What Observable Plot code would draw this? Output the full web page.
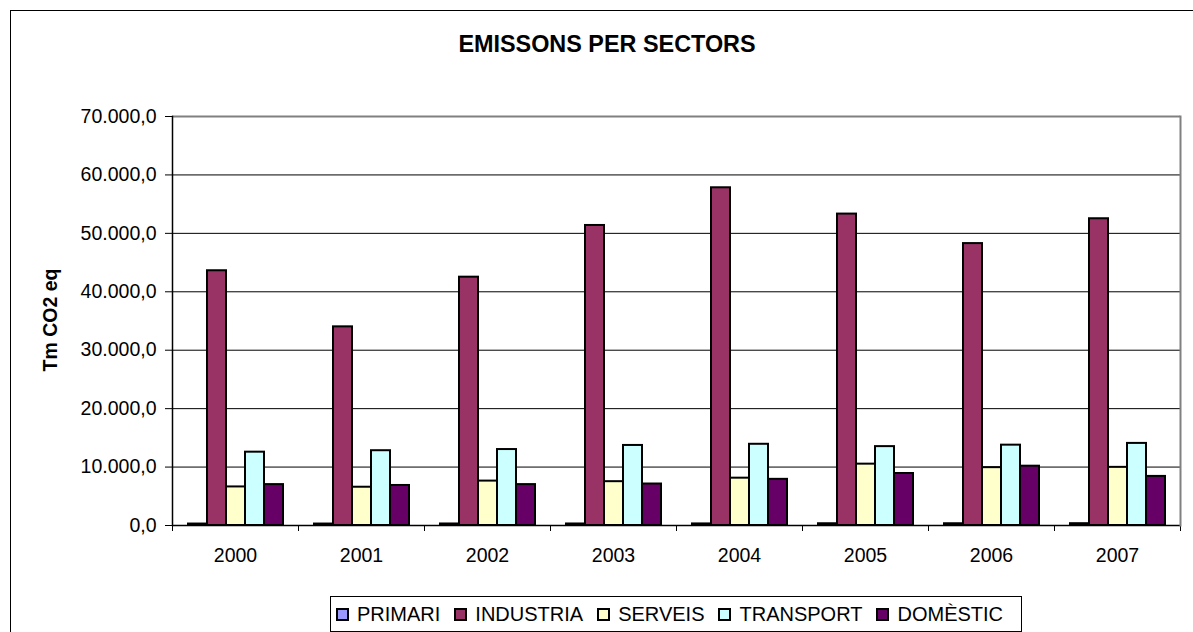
<!DOCTYPE html>
<html><head><meta charset="utf-8">
<script src="https://cdn.jsdelivr.net/npm/d3@7"></script>
<script src="https://cdn.jsdelivr.net/npm/@observablehq/plot@0.6"></script>
<style>
html,body{margin:0;padding:0;background:#fff;overflow:hidden;width:1193px;height:632px;}
body{position:relative;font-family:"Liberation Sans",Arial,sans-serif;color:#000;}
#chart{position:absolute;left:0;top:0;}
#frame{position:absolute;left:10px;top:10px;width:1300px;height:700px;border:1px solid #000;box-sizing:border-box;pointer-events:none;}
#title{position:absolute;left:0;width:1214px;top:33px;text-align:center;font-weight:bold;font-size:23.4px;line-height:23.4px;white-space:nowrap;}
#ytitle{position:absolute;left:50px;top:320px;transform:translate(-50%,-50%) rotate(-90deg);font-weight:bold;font-size:19.5px;white-space:nowrap;}
#legend{position:absolute;left:330px;top:596px;width:692px;height:36px;box-sizing:border-box;border:1px solid #000;display:flex;align-items:center;padding-left:5px;font-size:20px;background:#fff;}
.item{display:flex;align-items:center;margin-right:14px;}
.sw{width:13px;height:13px;box-sizing:border-box;border:2px solid #000;margin-right:8px;}
</style>
</head><body>
<div id="chart"></div>
<div id="frame"></div>
<div id="title"></div>
<div id="ytitle"></div>
<div id="legend"></div>
<script>
const chartTitle = "EMISSONS PER SECTORS";
const yTitle = "Tm CO2 eq";
const years = [2000, 2001, 2002, 2003, 2004, 2005, 2006, 2007];
const sectors = ["PRIMARI", "INDUSTRIA", "SERVEIS", "TRANSPORT", "DOMÈSTIC"];
const colors = ["#9999FF", "#993366", "#FFFFCC", "#CCFFFF", "#660066"];
const primari = [250, 250, 260, 260, 270, 300, 300, 310];
const industria = [43600, 34000, 42500, 51350, 57800, 53300, 48250, 52500];
const serveis = [6600, 6550, 7600, 7500, 8100, 10500, 9900, 9950];
const transport = [12550, 12800, 13000, 13700, 13900, 13500, 13750, 14050];
const domestic = [7000, 6850, 7000, 7100, 7900, 8900, 10150, 8400];
const yTicks = [0, 10000, 20000, 30000, 40000, 50000, 60000, 70000];

const series = [primari, industria, serveis, transport, domestic];
const data = years.flatMap((yr, i) => sectors.map((s, j) => ({year: yr, sector: s, value: series[j][i]})));
const fmt = d3.formatLocale({decimal: ",", thousands: ".", grouping: [3], currency: ["", ""]}).format(",.1f");

const W = 1193, H = 632, mt = 116, mb = 107, ml = 168, mr = 10;
const plotH = H - mt - mb;

const chart = Plot.plot({
  width: W, height: H,
  marginTop: mt, marginBottom: mb, marginLeft: ml, marginRight: mr,
  style: {fontFamily: '"Liberation Sans", Arial, sans-serif', fontSize: "19.5px", color: "#000", background: "transparent"},
  fx: {domain: years, padding: 0, axis: "bottom", tickSize: 0, tickPadding: 23, label: null, tickFormat: d => String(d)},
  x: {domain: sectors, paddingInner: 0, paddingOuter: 0.77, axis: null},
  y: {domain: [0, 70000], ticks: yTicks, tickFormat: fmt, tickSize: 7, tickPadding: 9, label: null},
  color: {domain: sectors, range: colors},
  marks: [
    Plot.ruleY(yTicks.slice(0, -1), {stroke: "#000", strokeWidth: 1}),
    Plot.ruleY([yTicks[yTicks.length - 1]], {stroke: "#808080", strokeWidth: 2}),
    Plot.barY(data, {fx: "year", x: "sector", y: "value", fill: "sector", stroke: "#000", strokeWidth: 2}),
    Plot.ruleY([0], {stroke: "#000", strokeWidth: 1.5}),
    Plot.frame({anchor: "left", insetTop: plotH, insetBottom: -5, stroke: "#000"}),
    Plot.frame({anchor: "right", insetTop: plotH, insetBottom: -5, stroke: "#000"}),
    Plot.frame({anchor: "left", fx: () => years[0], stroke: "#000", strokeWidth: 1.5}),
    Plot.frame({anchor: "right", fx: () => years[years.length - 1], stroke: "#808080", strokeWidth: 2})
  ]
});
document.getElementById("chart").appendChild(chart);
document.getElementById("title").textContent = chartTitle;
document.getElementById("ytitle").textContent = yTitle;
const legend = document.getElementById("legend");
sectors.forEach((s, j) => {
  const item = document.createElement("div");
  item.className = "item";
  const sw = document.createElement("div");
  sw.className = "sw";
  sw.style.background = colors[j];
  const t = document.createElement("span");
  t.textContent = s;
  item.appendChild(sw); item.appendChild(t);
  legend.appendChild(item);
});
</script>
</body></html>
